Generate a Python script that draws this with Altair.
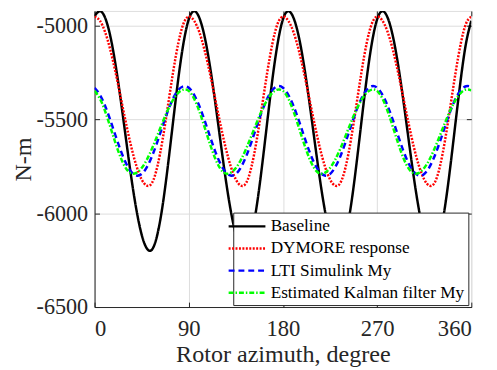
import altair as alt
import pandas as pd

# Rotor azimuth grid (degrees)
theta = list(range(0, 365, 5))

baseline = [
    -4950, -4923, -4957, -5055, -5207, -5396, -5603, -5806, -5982, -6114, -6188, -6193, -6114, -5960, -5750, -5514, -5284, -5093,
    -4967, -4923, -4957, -5055, -5207, -5396, -5603, -5806, -5982, -6114, -6188, -6193, -6114, -5960, -5750, -5514, -5284, -5093,
    -4967, -4923, -4957, -5055, -5207, -5396, -5603, -5806, -5982, -6114, -6188, -6193, -6114, -5960, -5750, -5514, -5284, -5093,
    -4967, -4923, -4957, -5055, -5207, -5396, -5603, -5806, -5982, -6114, -6188, -6193, -6114, -5960, -5750, -5514, -5284, -5093,
    -4975,
]
dymore = [
    -4952, -4973, -5033, -5128, -5248, -5383, -5519, -5645, -5748, -5820, -5853, -5837, -5751, -5608, -5431, -5250, -5094, -4989,
    -4952, -4973, -5033, -5128, -5248, -5383, -5519, -5645, -5748, -5820, -5853, -5837, -5751, -5608, -5431, -5250, -5094, -4989,
    -4952, -4973, -5033, -5128, -5248, -5383, -5519, -5645, -5748, -5820, -5853, -5837, -5751, -5608, -5431, -5250, -5094, -4989,
    -4952, -4973, -5033, -5128, -5248, -5383, -5519, -5645, -5748, -5820, -5853, -5837, -5751, -5608, -5431, -5250, -5094, -4989,
    -4952,
]
lti = [
    -5331, -5368, -5427, -5503, -5586, -5666, -5733, -5779, -5799, -5791, -5754, -5695, -5619, -5536, -5456, -5389, -5343, -5323,
    -5331, -5368, -5427, -5503, -5586, -5666, -5733, -5779, -5799, -5791, -5754, -5695, -5619, -5536, -5456, -5389, -5343, -5323,
    -5331, -5368, -5427, -5503, -5586, -5666, -5733, -5779, -5799, -5791, -5754, -5695, -5619, -5536, -5456, -5389, -5343, -5323,
    -5331, -5368, -5427, -5503, -5586, -5666, -5733, -5779, -5799, -5791, -5754, -5695, -5619, -5536, -5456, -5389, -5343, -5323,
    -5325,
]
kalman = [
    -5348, -5388, -5455, -5539, -5626, -5704, -5761, -5788, -5785, -5759, -5714, -5654, -5586, -5516, -5450, -5396, -5358, -5341,
    -5348, -5388, -5455, -5539, -5626, -5704, -5761, -5788, -5785, -5759, -5714, -5654, -5586, -5516, -5450, -5396, -5358, -5341,
    -5348, -5388, -5455, -5539, -5626, -5704, -5761, -5788, -5785, -5759, -5714, -5654, -5586, -5516, -5450, -5396, -5358, -5341,
    -5348, -5388, -5455, -5539, -5626, -5704, -5761, -5788, -5785, -5759, -5714, -5654, -5586, -5516, -5450, -5396, -5358, -5341,
    -5345,
]

series_names = ["Baseline", "DYMORE response", "LTI Simulink My", "Estimated Kalman filter My"]
colors = ["#000000", "#ff0000", "#0000ff", "#00ff00"]
dashes = [[1, 0], [2, 1.5], [6, 4], [5, 2, 1.5, 2]]

x_ticks = [0, 90, 180, 270, 360]
y_ticks = [-6500, -6000, -5500, -5000]

rows = []
for name, vals in zip(series_names, [baseline, dymore, lti, kalman]):
    for t, v in zip(theta, vals):
        rows.append({"theta": t, "value": v, "series": name})
df = pd.DataFrame(rows)

W, H = 383, 301
FONT = "Liberation Serif"
AX = "#262626"

xscale = alt.Scale(domain=[0, 360], nice=False, zero=False)
yscale = alt.Scale(domain=[-6500, -4922], nice=False, zero=False)

legend = alt.Legend(
    title=None, orient="none", legendX=141, legendY=205,
    symbolType="M-2.2,0L2.2,0", symbolSize=289, symbolStrokeWidth=2.5,
    labelFont=FONT, labelFontSize=17.5, labelFontWeight="normal", labelColor="black", labelLimit=400,
    labelOffset=14, strokeColor=AX, fillColor="white", padding=4, rowPadding=3.5,
    cornerRadius=0,
)

main = alt.Chart(df).mark_line(strokeWidth=2.5, clip=True, interpolate="natural").encode(
    x=alt.X("theta:Q", scale=xscale, axis=alt.Axis(
        values=x_ticks, title="Rotor azimuth, degree", grid=True, ticks=False,
        labelExpr="'' + datum.value",
        labelPadding=11, titlePadding=2, domainColor=AX, gridColor="#dcdcdc",
        labelFont=FONT, labelFontSize=23, labelColor=AX,
        titleFont=FONT, titleFontSize=24.5, titleFontWeight="normal", titleColor=AX)),
    y=alt.Y("value:Q", scale=yscale, axis=alt.Axis(
        values=y_ticks, title="N-m", grid=True, ticks=False,
        labelExpr="'' + datum.value",
        labelPadding=7, titlePadding=1, domainColor=AX, gridColor="#dcdcdc",
        labelFont=FONT, labelFontSize=22.5, labelColor=AX,
        titleFont=FONT, titleFontSize=24.5, titleFontWeight="normal", titleColor=AX)),
    color=alt.Color("series:N", scale=alt.Scale(domain=series_names, range=colors), legend=legend),
    strokeDash=alt.StrokeDash("series:N", scale=alt.Scale(domain=series_names, range=dashes), legend=legend),
)

def tick_axis(orient, offset, vals):
    return alt.Axis(orient=orient, offset=offset, values=vals, labels=False, domain=False,
                    grid=False, ticks=True, tickSize=5, tickColor=AX, title=None)

ticks_a = alt.Chart(df).mark_line(opacity=0).encode(
    x=alt.X("theta:Q", scale=xscale, axis=tick_axis("top", -H, x_ticks)),
    y=alt.Y("value:Q", scale=yscale, axis=tick_axis("right", -W, y_ticks)),
    detail="series:N",
)
ticks_b = alt.Chart(df).mark_line(opacity=0).encode(
    x=alt.X("theta:Q", scale=xscale, axis=tick_axis("bottom", -H, x_ticks)),
    y=alt.Y("value:Q", scale=yscale, axis=tick_axis("left", -W, y_ticks)),
    detail="series:N",
)

chart = alt.layer(main, ticks_a, ticks_b).resolve_axis(
    x="independent", y="independent"
).properties(
    width=W, height=H,
    autosize=alt.AutoSizeParams(type="none"),
    padding={"left": 88, "top": 0, "right": 18, "bottom": 61},
    background="white",
).configure_view(
    stroke=AX, strokeWidth=1
).configure_legend(
    labelFont=FONT, labelFontSize=17.5, labelFontWeight="normal", labelColor="black"
).configure_axis(
    labelFont=FONT, titleFont=FONT
).configure(font=FONT)

chart.save("out.html", embed_options={"renderer": "svg", "actions": False})
